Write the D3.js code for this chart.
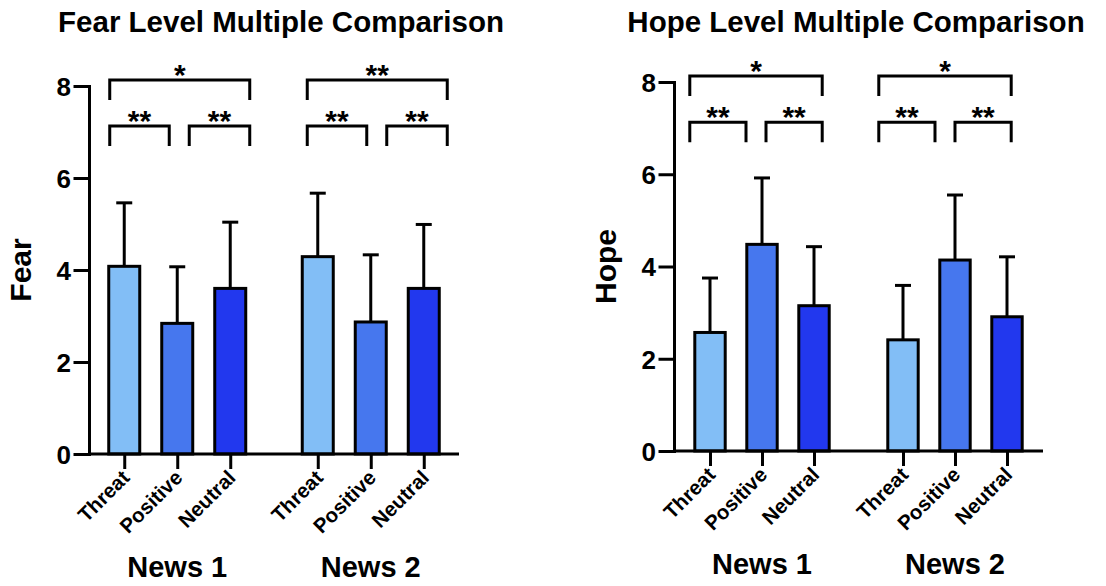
<!DOCTYPE html>
<html>
<head>
<meta charset="utf-8">
<script src="https://cdn.jsdelivr.net/npm/d3@7"></script>
<style>
  html, body { margin: 0; padding: 0; background: #fff; }
  svg { display: block; font-family: "Liberation Sans", Arial, Helvetica, sans-serif; font-weight: bold; }
</style>
</head>
<body>
<svg id="chart" width="1106" height="586"></svg>
<script>
// ---- data ----
const categories = ["Threat", "Positive", "Neutral"];
const groups = ["News 1", "News 2"];
const yTicks = [0, 2, 4, 6, 8];
const colors = ["#82BEF6", "#4677EE", "#2238EE"];

const fearMean = [[4.08, 2.84, 3.60], [4.29, 2.87, 3.60]];
const fearSD   = [[1.38, 1.23, 1.44], [1.38, 1.46, 1.39]];
const hopeMean = [[2.57, 4.48, 3.15], [2.41, 4.14, 2.91]];
const hopeSD   = [[1.18, 1.44, 1.28], [1.18, 1.41, 1.30]];

const comparisons = [["Threat", "Positive"], ["Positive", "Neutral"], ["Threat", "Neutral"]];
const comparisonLevel = [7.13, 7.13, 8.13];
const fearSig = [["**", "**", "*"], ["**", "**", "**"]];
const hopeSig = [["**", "**", "*"], ["**", "**", "*"]];

// ---- layout ----
const charts = [
  { title: "Fear Level Multiple Comparison", yLabel: "Fear", mean: fearMean, sd: fearSD, sig: fearSig,
    xRange: [89, 459], yRange: [454, 86], titleX: 281, inner: 53,
    br: { outerL: 1, innerL: -8, innerR: 12, outerR: 4, shift: [0, 4] } },
  { title: "Hope Level Multiple Comparison", yLabel: "Hope", mean: hopeMean, sd: hopeSD, sig: hopeSig,
    xRange: [674, 1043], yRange: [451, 82], titleX: 856, inner: 52,
    br: { outerL: -5, innerL: -16, innerR: 4, outerR: -7, shift: [0, -4] } }
];

const svg = d3.select("#chart");
const SW = 3;
const FF = "'Liberation Sans', Arial, sans-serif";

charts.forEach(c => {
  const g = svg.append("g");
  const y = d3.scaleLinear().domain([0, 8]).range(c.yRange);
  const xg = d3.scalePoint().domain(groups).range(c.xRange).padding(0.456);
  const half = c.inner * 1.5;
  const xi = d3.scaleBand().domain(categories).range([-half, half]).paddingInner(0.415).paddingOuter(0.2075);
  const bw = xi.bandwidth();
  const cx = (gi, cat) => xg(groups[gi]) + xi(cat) + bw / 2;

  // title
  g.append("text").attr("x", c.titleX).attr("y", 32).attr("text-anchor", "middle")
    .attr("font-size", 29.5).text(c.title);

  // y label
  g.append("text")
    .attr("transform", `translate(${c.xRange[0] - 58},${(c.yRange[0] + c.yRange[1]) / 2}) rotate(-90)`)
    .attr("text-anchor", "middle").attr("font-size", 30).text(c.yLabel);

  // bars data
  const rows = [];
  groups.forEach((grp, gi) => categories.forEach((cat, ci) => {
    rows.push({ gi, ci, cat, mean: c.mean[gi][ci], sd: c.sd[gi][ci] });
  }));

  // error bars
  const eb = g.append("g").attr("stroke", "#000").attr("stroke-width", SW).attr("fill", "none");
  eb.selectAll("line.v").data(rows).join("line").attr("class", "v")
    .attr("x1", d => cx(d.gi, d.cat)).attr("x2", d => cx(d.gi, d.cat))
    .attr("y1", d => y(d.mean)).attr("y2", d => y(d.mean + d.sd));
  eb.selectAll("line.cap").data(rows).join("line").attr("class", "cap")
    .attr("x1", d => cx(d.gi, d.cat) - 8).attr("x2", d => cx(d.gi, d.cat) + 8)
    .attr("y1", d => y(d.mean + d.sd)).attr("y2", d => y(d.mean + d.sd));

  // bars
  g.append("g").selectAll("rect").data(rows).join("rect")
    .attr("x", d => cx(d.gi, d.cat) - bw / 2)
    .attr("width", bw)
    .attr("y", d => y(d.mean))
    .attr("height", d => y(0) - y(d.mean))
    .attr("fill", d => colors[d.ci])
    .attr("stroke", "#000").attr("stroke-width", SW);

  // y axis
  const ya = g.append("g").attr("transform", `translate(${c.xRange[0]},0)`)
    .call(d3.axisLeft(y).tickValues(yTicks).tickSize(14).tickSizeOuter(0).tickPadding(4).tickFormat(d3.format("d")));
  ya.selectAll("path, line").attr("stroke", "#000").attr("stroke-width", SW).attr("stroke-linecap", "square");
  ya.selectAll("text").attr("font-size", 26).attr("font-weight", "bold").attr("fill", "#000")
    .attr("font-family", FF).attr("dy", "0.36em");

  // x baseline
  g.append("line").attr("x1", c.xRange[0]).attr("x2", c.xRange[1])
    .attr("y1", y(0)).attr("y2", y(0)).attr("stroke", "#000").attr("stroke-width", SW);

  // x axis ticks + rotated labels
  const keys = rows.map(d => d.gi + "|" + d.cat);
  const xo = d3.scaleOrdinal().domain(keys).range(rows.map(d => cx(d.gi, d.cat)));
  const xa = g.append("g").attr("transform", `translate(0,${y(0)})`)
    .call(d3.axisBottom(xo).tickSize(15).tickSizeOuter(0).tickFormat(k => k.split("|")[1]));
  xa.select(".domain").remove();
  xa.selectAll("line").attr("stroke", "#000").attr("stroke-width", SW);
  xa.selectAll("text")
    .attr("x", 0).attr("y", 0).attr("dy", 0)
    .attr("text-anchor", "end")
    .attr("transform", "translate(6,25) rotate(-45)")
    .attr("font-size", 20.5).attr("font-weight", "bold").attr("fill", "#000")
    .attr("font-family", FF);

  // group labels
  g.append("g").selectAll("text").data(groups).join("text")
    .attr("x", d => xg(d)).attr("y", y(0) + 123)
    .attr("text-anchor", "middle").attr("font-size", 29).text(d => d);

  // significance brackets
  const bg = g.append("g");
  groups.forEach((grp, gi) => {
    comparisons.forEach((pair, pi) => {
      const [a, b] = pair;
      const ia = categories.indexOf(a), ib = categories.indexOf(b);
      const sh = c.br.shift[gi];
      const x1 = (ia === 0 ? cx(gi, a) - bw / 2 + c.br.outerL : cx(gi, a) + c.br.innerR) + sh;
      const x2 = (ib === categories.length - 1 ? cx(gi, b) + bw / 2 + c.br.outerR : cx(gi, b) + c.br.innerL) + sh;
      const yt = y(comparisonLevel[pi]);
      const yl = yt + 20;
      bg.append("path").attr("d", `M${x1},${yl}V${yt}H${x2}V${yl}`)
        .attr("fill", "none").attr("stroke", "#000").attr("stroke-width", SW)
        .attr("stroke-linejoin", "miter");
      bg.append("text").attr("x", (x1 + x2) / 2).attr("y", yt + 5)
        .attr("text-anchor", "middle").attr("font-size", 30).text(c.sig[gi][pi]);
    });
  });
});
</script>
</body>
</html>
